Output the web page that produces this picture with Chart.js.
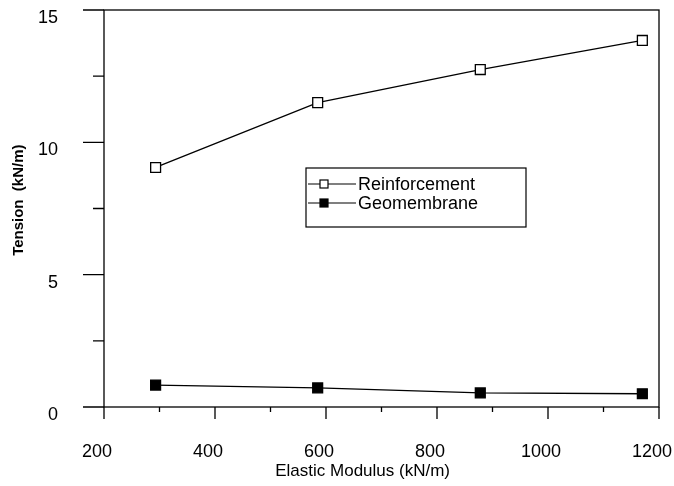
<!DOCTYPE html>
<html>
<head>
<meta charset="utf-8">
<script src="https://cdn.jsdelivr.net/npm/chart.js@4/dist/chart.umd.min.js"></script>
<style>
  html, body { margin: 0; padding: 0; background: #fff; }
  #wrap { width: 674px; height: 486px; position: relative; }
</style>
</head>
<body>
<div id="wrap"><canvas id="linechart"></canvas></div>
<script>
// values
var modulus = [293, 585, 878, 1170];
var reinforcement = [9.05, 11.5, 12.75, 13.85];
var geomembrane = [0.83, 0.72, 0.53, 0.5];

var xMajor = [200, 400, 600, 800, 1000, 1200];
var xMinor = [300, 500, 700, 900, 1100];
var yMajor = [0, 5, 10, 15];
var yMinor = [2.5, 7.5, 12.5];

var FONT = '"Liberation Sans", Arial, sans-serif';

function pts(ys) {
  return modulus.map(function (x, i) { return { x: x, y: ys[i] }; });
}

// drop the room Chart.js keeps for overhanging labels
function noOverhang(s) {
  s.paddingLeft = 0; s.paddingRight = 0; s.paddingTop = 0; s.paddingBottom = 0;
}

// box round the plot, ticks of two lengths, and the boxed legend
var frame = {
  id: 'frame',
  afterDraw: function (chart) {
    var c = chart.ctx, a = chart.chartArea;
    var sx = chart.scales.x, sy = chart.scales.y;
    c.save();
    c.strokeStyle = '#000';
    c.lineWidth = 1.3;
    c.strokeRect(a.left, a.top, a.right - a.left, a.bottom - a.top);
    c.beginPath();
    xMajor.forEach(function (v) { var p = sx.getPixelForValue(v); c.moveTo(p, a.bottom); c.lineTo(p, a.bottom + 12); });
    xMinor.forEach(function (v) { var p = sx.getPixelForValue(v); c.moveTo(p, a.bottom); c.lineTo(p, a.bottom + 5); });
    yMajor.forEach(function (v) { var p = sy.getPixelForValue(v); c.moveTo(a.left, p); c.lineTo(a.left - 21, p); });
    yMinor.forEach(function (v) { var p = sy.getPixelForValue(v); c.moveTo(a.left, p); c.lineTo(a.left - 11, p); });
    c.stroke();

    // legend
    var bx = 306, by = 168, bw = 220, bh = 59;
    c.lineWidth = 1.2;
    c.strokeRect(bx, by, bw, bh);
    c.font = '18px ' + FONT;
    c.textBaseline = 'middle';
    c.fillStyle = '#000';
    chart.data.datasets.forEach(function (ds, i) {
      var ly = by + 16 + i * 19;
      c.beginPath();
      c.moveTo(bx + 2, ly); c.lineTo(bx + 50, ly);
      c.lineWidth = 1.2;
      c.stroke();
      c.fillStyle = ds.pointBackgroundColor;
      c.fillRect(bx + 14, ly - 4, 8, 8);
      c.strokeRect(bx + 14, ly - 4, 8, 8);
      c.fillStyle = '#000';
      c.fillText(ds.label, bx + 52, ly + 1);
    });
    c.restore();
  }
};

var ctx = document.getElementById('linechart');
var myChart = new Chart(ctx, {
  type: 'scatter',
  data: {
    datasets: [{
      label: 'Reinforcement',
      data: pts(reinforcement),
      showLine: true,
      borderColor: '#000',
      borderWidth: 1.3,
      pointStyle: 'rect',
      pointRadius: 7,
      pointBorderWidth: 1.3,
      pointBorderColor: '#000',
      pointBackgroundColor: '#fff'
    }, {
      label: 'Geomembrane',
      data: pts(geomembrane),
      showLine: true,
      borderColor: '#000',
      borderWidth: 1.3,
      pointStyle: 'rect',
      pointRadius: 7,
      pointBorderWidth: 1.3,
      pointBorderColor: '#000',
      pointBackgroundColor: '#000'
    }]
  },
  options: {
    responsive: true,
    maintainAspectRatio: false,
    animation: false,
    layout: { padding: { top: 10, right: 15, left: 0, bottom: 0 } },
    plugins: { legend: { display: false }, tooltip: { enabled: false } },
    scales: {
      x: {
        type: 'linear',
        min: 200, max: 1200,
        afterFit: function (s) { s.height = 79; noOverhang(s); },
        border: { display: false },
        grid: { drawOnChartArea: false, tickLength: 12, tickColor: 'transparent' },
        ticks: {
          stepSize: 200, padding: 22, labelOffset: -7, color: '#000', maxRotation: 0,
          callback: function (v) { return String(v); },
          font: { family: FONT, size: 18 }
        },
        title: {
          // trailing blanks pull the title left, as in the original
          display: true, text: 'Elastic Modulus (kN/m)\u00a0\u00a0\u00a0\u00a0\u00a0\u00a0\u00a0\u00a0', color: '#000',
          padding: { top: 0, bottom: 4 },
          font: { family: FONT, size: 17 }
        }
      },
      y: {
        min: 0, max: 15,
        afterFit: function (s) { s.width = 104; noOverhang(s); },
        border: { display: false },
        grid: { drawOnChartArea: false, tickLength: 20, tickColor: 'transparent' },
        ticks: {
          stepSize: 5, padding: 26, labelOffset: 8, color: '#000',
          font: { family: FONT, size: 18 }
        },
        title: {
          display: true, text: '\u00a0\u00a0\u00a0\u00a0Tension  (kN/m)', color: '#000',
          padding: { top: 10, bottom: 0 },
          font: { family: FONT, size: 15, weight: 'bold' }
        }
      }
    }
  },
  plugins: [frame]
});
</script>
</body>
</html>
